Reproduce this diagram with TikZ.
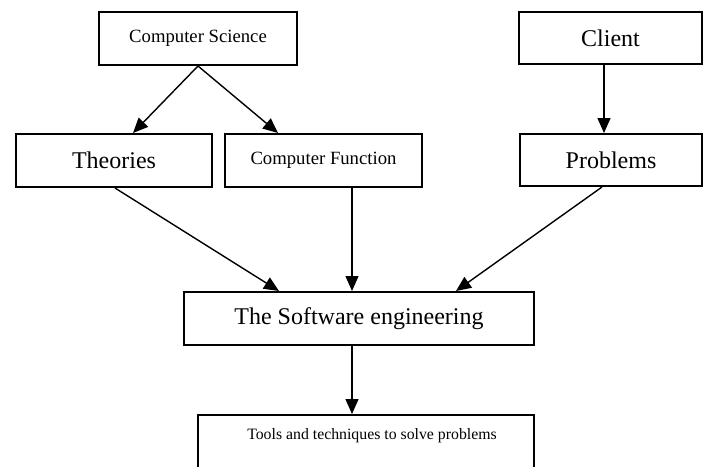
\documentclass[tikz,border=0pt]{standalone}
\usepackage{fontspec}
\setmainfont{Liberation Serif}
\usetikzlibrary{arrows.meta,calc}
\begin{document}
\begin{tikzpicture}[x=1pt,y=-1pt,
 box/.style={draw, line width=2pt, rectangle, inner sep=0pt, anchor=north west},
 conn/.style={line width=1.4pt, -{Triangle[length=15pt,width=13pt]}},
 small/.style={font=\fontsize{18.7}{22}\selectfont},
 big/.style={font=\fontsize{24}{28}\selectfont},
 tiny/.style={font=\fontsize{15.8}{19}\selectfont}]
\path[use as bounding box] (0,0) rectangle (703,466);
\clip (0,0) rectangle (703,466);
\node[box, small, minimum width=198pt, minimum height=53pt] (cs) at (98,11) {Computer Science};
\node[box, big, minimum width=183pt, minimum height=52pt] (cl) at (518,11) {Client};
\node[box, big, minimum width=196pt, minimum height=53pt] (th) at (15,133) {Theories};
\node[box, small, minimum width=197pt, minimum height=53pt] (cf) at (224,133) {Computer Function};
\node[box, big, minimum width=182pt, minimum height=52pt] (pr) at (519,133) {Problems};
\node[box, big, minimum width=350pt, minimum height=53pt] (se) at (183,291) {The Software engineering};
\node[box, minimum width=336pt, minimum height=90pt] (tl) at (197,414) {};
\node[tiny, inner sep=0pt] (tltext) at (372,436) {Tools and techniques to solve problems};
\draw[conn] (cs.south) -- ([xshift=19pt]th.north);
\draw[conn] (cs.south) -- ([xshift=-45.5pt]cf.north);
\draw[conn] ([xshift=-6.5pt]cl.south) -- ([xshift=-7pt]pr.north);
\draw[conn] ([xshift=1pt]th.south) -- ([xshift=-80pt]se.north);
\draw[conn] ([xshift=28.5pt]cf.south) -- ([xshift=-7pt]se.north);
\draw[conn] ([xshift=-9pt]pr.south) -- ([xshift=97pt]se.north);
\draw[conn] ([xshift=-7pt]se.south) -- ([xshift=-14pt]tl.north);
\end{tikzpicture}
\end{document}
